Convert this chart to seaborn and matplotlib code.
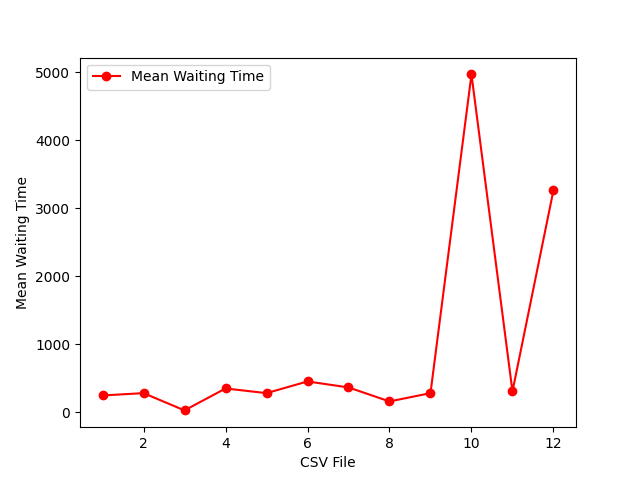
import matplotlib
matplotlib.use("Agg")
import matplotlib.pyplot as plt
import seaborn as sns
import pandas as pd

csv_files = [1, 2, 3, 4, 5, 6, 7, 8, 9, 10, 11, 12]
mean_waiting = [245, 279, 25, 348, 279, 451, 363, 157, 279, 4970, 304, 3265]

df = pd.DataFrame({"CSV File": csv_files, "Mean Waiting Time": mean_waiting})

fig, ax = plt.subplots(figsize=(6.4, 4.8), dpi=100)
sns.lineplot(data=df, x="CSV File", y="Mean Waiting Time", ax=ax, color="red",
             marker="o", markersize=6, markeredgecolor="red", markeredgewidth=1,
             label="Mean Waiting Time")
ax.set_xlabel("CSV File")
ax.set_ylabel("Mean Waiting Time")
ax.legend(loc="upper left")
fig.savefig("out.png", dpi=100)
